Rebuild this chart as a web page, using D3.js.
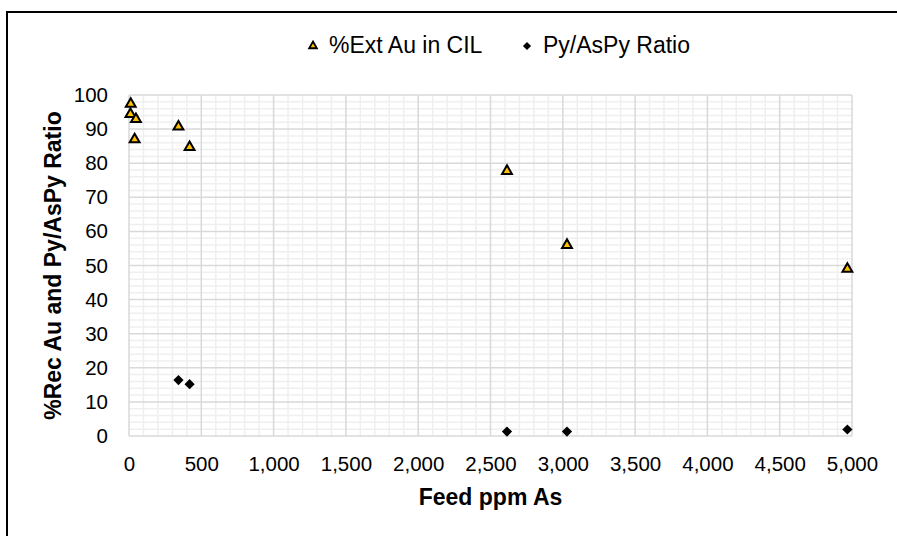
<!DOCTYPE html>
<html>
<head>
<meta charset="utf-8">
<script src="https://cdn.jsdelivr.net/npm/d3@7"></script>
<style>
  html, body { margin: 0; padding: 0; background: #fff; }
  svg { display: block; font-family: "Liberation Sans", Arial, sans-serif; }
</style>
</head>
<body>
<svg id="chart" width="897" height="536"></svg>
<script>
// ---- data ----
const extAuX = [12, 10, 48, 39, 342, 419, 2614, 3029, 4968];
const extAuY = [97.4, 94.4, 92.9, 87, 90.7, 84.7, 77.7, 56, 49];
const ratioX = [342, 419, 2614, 3029, 4968];
const ratioY = [16.4, 15.2, 1.3, 1.3, 1.9];
const xTicks = [0, 500, 1000, 1500, 2000, 2500, 3000, 3500, 4000, 4500, 5000];
const yTicks = [0, 10, 20, 30, 40, 50, 60, 70, 80, 90, 100];
const seriesNames = ["%Ext Au in CIL", "Py/AsPy Ratio"];
const xTitle = "Feed ppm As";
const yTitle = "%Rec Au and Py/AsPy Ratio";

const svg = d3.select("#chart");
const L = 129, R = 852, T = 95, B = 436;
const x = d3.scaleLinear().domain([0, 5000]).range([L, R]);
const y = d3.scaleLinear().domain([0, 100]).range([B, T]);

// outer frame (extends beyond canvas on right and bottom)
svg.append("rect").attr("x", 7).attr("y", 12).attr("width", 1000).attr("height", 1000)
  .attr("fill", "none").attr("stroke", "#000").attr("stroke-width", 2);

// minor grid
const g = svg.append("g");
d3.range(0, 5001, 100).filter(v => v % 500 !== 0).forEach(v => {
  g.append("line").attr("x1", x(v)).attr("x2", x(v)).attr("y1", T).attr("y2", B)
    .attr("stroke", "#efefef").attr("stroke-width", 1.5);
});
d3.range(0, 101, 2).filter(v => v % 10 !== 0).forEach(v => {
  g.append("line").attr("x1", L).attr("x2", R).attr("y1", y(v)).attr("y2", y(v))
    .attr("stroke", "#efefef").attr("stroke-width", 1.5);
});
// major grid
xTicks.forEach(v => {
  g.append("line").attr("x1", x(v)).attr("x2", x(v)).attr("y1", T).attr("y2", B)
    .attr("stroke", "#d9d9d9").attr("stroke-width", 1.5);
});
yTicks.forEach(v => {
  g.append("line").attr("x1", L).attr("x2", R).attr("y1", y(v)).attr("y2", y(v))
    .attr("stroke", "#d9d9d9").attr("stroke-width", 1.5);
});

// axes
const fmt = d3.format(",");
const xAxis = svg.append("g").attr("transform", `translate(0,${B})`)
  .call(d3.axisBottom(x).tickValues(xTicks).tickFormat(fmt).tickSize(0).tickPadding(20));
xAxis.select(".domain").remove();
xAxis.selectAll("text").attr("font-size", 20.5).attr("fill", "#000").attr("font-family", "Liberation Sans, Arial, sans-serif");

const yAxis = svg.append("g").attr("transform", `translate(${L},0)`)
  .call(d3.axisLeft(y).tickValues(yTicks).tickSize(0).tickPadding(21));
yAxis.select(".domain").remove();
yAxis.selectAll("text").attr("font-size", 20.5).attr("fill", "#000").attr("font-family", "Liberation Sans, Arial, sans-serif");

// axis titles
svg.append("text").attr("x", (L + R) / 2).attr("y", 505).attr("text-anchor", "middle")
  .attr("font-size", 23).attr("font-weight", "bold").text(xTitle);
svg.append("text").attr("transform", `translate(61,${(T + B) / 2}) rotate(-90)`)
  .attr("text-anchor", "middle").attr("font-size", 23).attr("font-weight", "bold").text(yTitle);

// markers
const tri = d3.symbol().type(d3.symbolTriangle).size(42);
const dia = d3.symbol().type(d3.symbolSquare).size(52);

svg.append("g").selectAll("path").data(ratioX.map((v, i) => [v, ratioY[i]])).join("path")
  .attr("d", dia).attr("transform", d => `translate(${x(d[0])},${y(d[1])}) rotate(45)`)
  .attr("fill", "#000");
svg.append("g").selectAll("path").data(extAuX.map((v, i) => [v, extAuY[i]])).join("path")
  .attr("d", tri).attr("transform", d => `translate(${x(d[0])},${y(d[1])})`)
  .attr("fill", "#FFC000").attr("stroke", "#000").attr("stroke-width", 2);

// legend
const leg = svg.append("g");
leg.append("path").attr("d", d3.symbol().type(d3.symbolTriangle).size(26))
  .attr("transform", "translate(313,46)").attr("fill", "#FFC000").attr("stroke", "#000").attr("stroke-width", 1.8);
leg.append("text").attr("x", 329).attr("y", 53).attr("font-size", 23).text(seriesNames[0]);
leg.append("path").attr("d", d3.symbol().type(d3.symbolSquare).size(34))
  .attr("transform", "translate(527,46) rotate(45)").attr("fill", "#000");
leg.append("text").attr("x", 543).attr("y", 53).attr("font-size", 23).text(seriesNames[1]);
</script>
</body>
</html>
